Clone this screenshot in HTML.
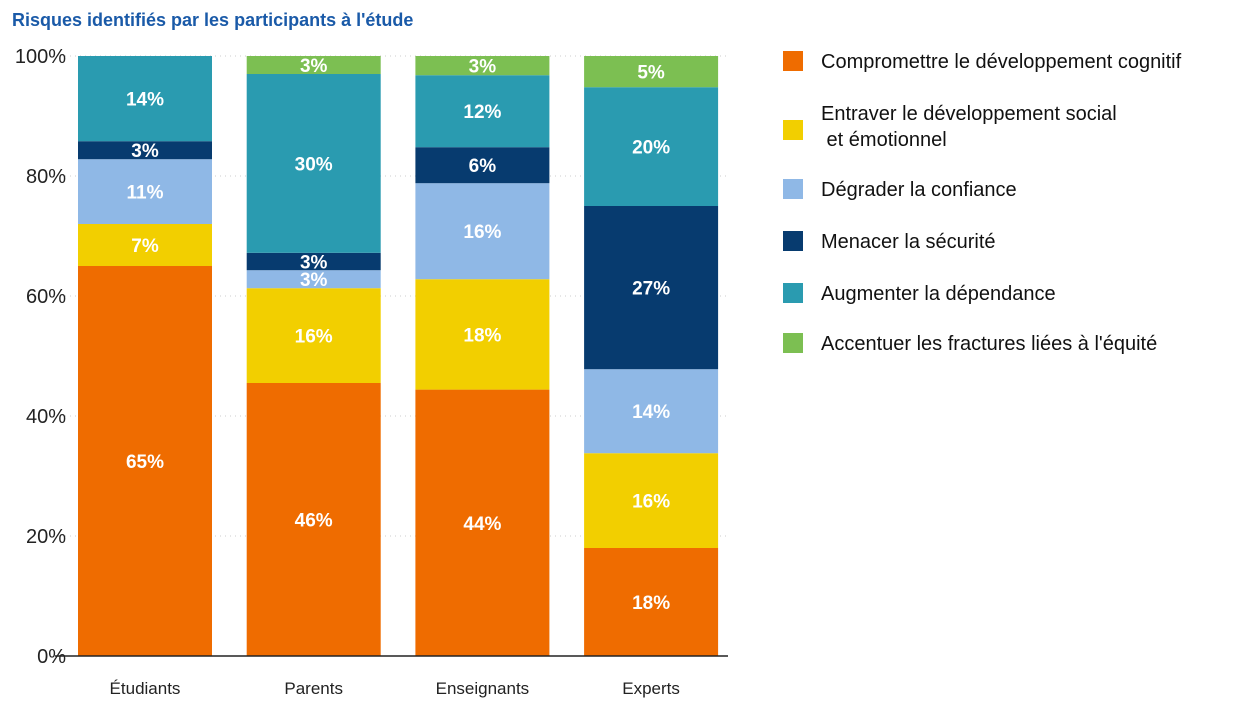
<!DOCTYPE html>
<html><head><meta charset="utf-8">
<style>
body{margin:0;background:#fff;width:1250px;height:708px;overflow:hidden;font-family:"Liberation Sans",sans-serif;}
</style></head>
<body>
<svg id="chart" width="1250" height="708" xmlns="http://www.w3.org/2000/svg">
<text x="12" y="26" font-family="Liberation Sans, sans-serif" font-weight="bold" font-size="18" fill="#1a5aa8">Risques identifiés par les participants à l'étude</text>
<g id="grid"></g><g id="bars"></g><g id="axes"></g><g id="legend"></g>
</svg>
<script>
const categories=["Étudiants","Parents","Enseignants","Experts"];
const seriesNames=["Compromettre le développement cognitif","Entraver le développement social\n et émotionnel","Dégrader la confiance","Menacer la sécurité","Augmenter la dépendance","Accentuer les fractures liées à l'équité"];
const cognitif=[65,45.5,44.4,18];
const social=[7,15.8,18.4,15.8];
const confiance=[10.8,3,16,14];
const securite=[3,2.9,6,27.2];
const dependance=[14.2,29.8,12,19.8];
const equite=[0,3,3.2,5.2];
const yTicks=[0,20,40,60,80,100];
const series=[cognitif,social,confiance,securite,dependance,equite];
const colors=["#ef6c00","#f2cf00","#8fb8e6","#073b6f","#2a9bb0","#7cbf52"];
const NS="http://www.w3.org/2000/svg";
const y0=656,yTop=56;
const y=v=>y0-(v/100)*(y0-yTop);
const bandStart=78,bandStep=168.7,barW=134;
const x=i=>bandStart+i*bandStep;
function mk(t,a,p){const e=document.createElementNS(NS,t);for(const k in a)e.setAttribute(k,a[k]);p.appendChild(e);return e;}
const grid=document.getElementById('grid'),bars=document.getElementById('bars'),axes=document.getElementById('axes'),legend=document.getElementById('legend');
yTicks.forEach(t=>{
  if(t>0){const l=mk('line',{x1:65,x2:728,y1:y(t),y2:y(t),stroke:'#cccccc','stroke-dasharray':'1 4'},grid);
  
  }
  const tx=mk('text',{x:66,y:y(t)+7,'text-anchor':'end','font-size':20,fill:'#222'},axes);
  tx.textContent=t+'%';
  
  
});
categories.forEach((c,i)=>{
  let acc=0;
  series.forEach((s,j)=>{
    const v=s[i];if(v<=0)return;
    const r=mk('rect',{x:x(i),y:y(acc+v),width:barW,height:y(acc)-y(acc+v),fill:colors[j]},bars);
    
    
    const t=mk('text',{x:x(i)+barW/2,y:(y(acc)+y(acc+v))/2+7,'text-anchor':'middle','font-size':19,'font-weight':'bold',fill:'#fff'},bars);
    t.textContent=Math.round(v)+'%';
    
    
    acc+=v;
  });
  const cl=mk('text',{x:x(i)+barW/2,y:694,'text-anchor':'middle','font-size':17,fill:'#222'},axes);
  cl.textContent=c;
  
  
});
const ax=mk('line',{x1:55,x2:728,y1:y0,y2:y0,stroke:'#222','stroke-width':1.5},axes);


const ly=[61,113,189,241,293,343];
seriesNames.forEach((n,j)=>{
  const g=mk('g',{},legend);
  
  
  const lines=n.split('\n');
  const sy=lines.length>1?ly[j]+17:ly[j];
  mk('rect',{x:783,y:sy-10,width:20,height:20,fill:colors[j]},g);
  lines.forEach((ln,k)=>{const t=mk('text',{x:821,y:ly[j]+7+k*26,'font-size':20,fill:'#111'},g);t.textContent=ln;t.style.whiteSpace='pre';});
});
</script>
</body></html>
